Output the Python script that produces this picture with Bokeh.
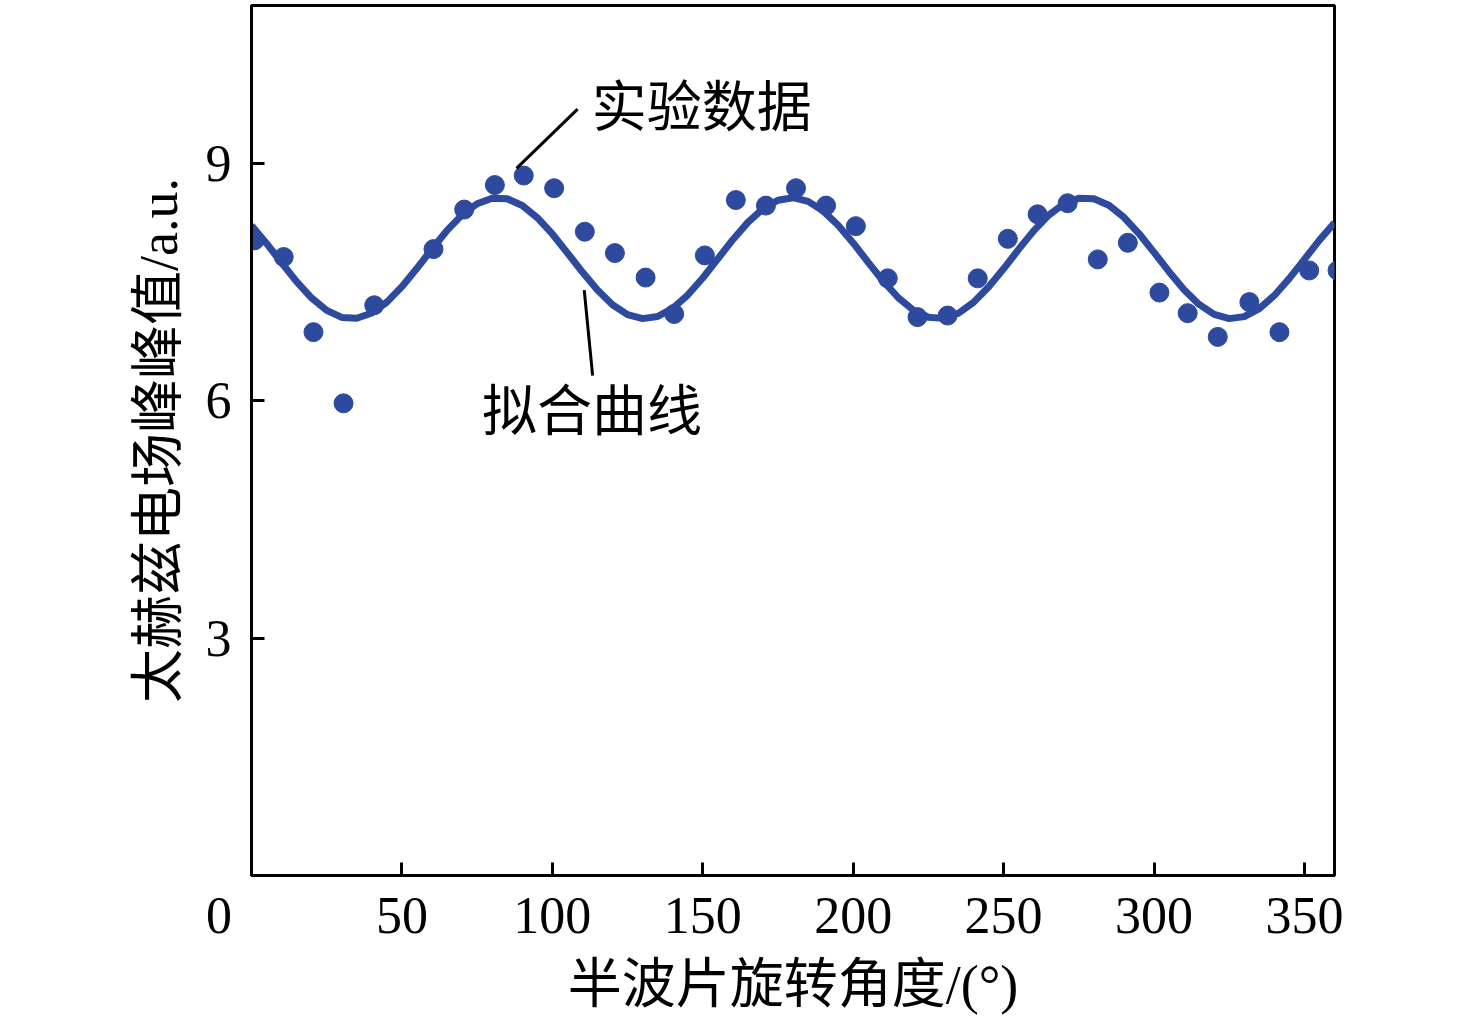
import math
from bokeh.plotting import figure
from bokeh.models import Label, FixedTicker
from bokeh.embed import file_html
from bokeh.resources import INLINE

# ---- data ----
angle_pts = [1, 10.7, 20.6, 30.6, 40.8, 60.5, 70.7, 80.9, 90.5, 100.6, 110.8, 120.8,
             131, 140.5, 150.7, 161, 171, 181, 191, 200.9, 211.5, 221.4, 231.4, 241.4,
             251.4, 261.3, 271.3, 281.3, 291.3, 301.8, 311.2, 321.2, 331.7, 341.7, 351.6, 361]
field_pts = [8.03, 7.82, 6.87, 5.97, 7.21, 7.92, 8.42, 8.73, 8.85, 8.69, 8.14, 7.87,
             7.56, 7.10, 7.84, 8.54, 8.47, 8.69, 8.47, 8.21, 7.55, 7.06, 7.08, 7.55,
             8.05, 8.36, 8.50, 7.79, 8.00, 7.37, 7.11, 6.81, 7.25, 6.87, 7.65, 7.65]

fit_x = [0, 5, 10, 15, 20, 25, 30, 35, 40, 45, 50, 55, 60, 65, 70, 75, 80, 85, 90, 95,
         100, 105, 110, 115, 120, 125, 130, 135, 140, 145, 150, 155, 160, 165, 170, 175,
         180, 185, 190, 195, 200, 205, 210, 215, 220, 225, 230, 235, 240, 245, 250, 255,
         260, 265, 270, 275, 280, 285, 290, 295, 300, 305, 310, 315, 320, 325, 330, 335,
         340, 345, 350, 355, 360]
fit_y = [8.217, 7.992, 7.747, 7.509, 7.301, 7.145, 7.056, 7.045, 7.112, 7.250, 7.445,
         7.677, 7.922, 8.156, 8.353, 8.494, 8.564, 8.556, 8.471, 8.317, 8.111, 7.873,
         7.629, 7.402, 7.217, 7.092, 7.041, 7.068, 7.171, 7.339, 7.555, 7.797, 8.039,
         8.258, 8.430, 8.537, 8.570, 8.524, 8.403, 8.222, 7.998, 7.753, 7.514, 7.305,
         7.148, 7.058, 7.044, 7.109, 7.246, 7.440, 7.671, 7.916, 8.150, 8.349, 8.491,
         8.563, 8.557, 8.474, 8.322, 8.117, 7.879, 7.635, 7.407, 7.221, 7.095, 7.041,
         7.066, 7.168, 7.334, 7.549, 7.791, 8.033, 8.253]

x_ticks = [0, 50, 100, 150, 200, 250, 300, 350]
y_ticks = [3, 6, 9]
x_title = "半波片旋转角度/(°)"
y_title = "太赫兹电场峰峰值/a.u."
label_data = "实验数据"
label_fit = "拟合曲线"

BLUE = "#2E4A9E"
FONT = "Liberation Serif, Noto Sans CJK SC"

p = figure(width=1460, height=1018, x_range=(0, 360), y_range=(0, 11),
           output_backend="svg", toolbar_location=None,
           min_border_left=251, min_border_right=126, min_border_top=5,
           min_border_bottom=143)

p.xgrid.grid_line_color = None
p.ygrid.grid_line_color = None
p.outline_line_color = "black"
p.outline_line_width = 3
p.outline_line_alpha = 1

for ax in (p.xaxis[0], p.yaxis[0]):
    ax.axis_line_width = 3
    ax.axis_line_color = "black"
    ax.major_tick_in = 13
    ax.major_tick_out = 0
    ax.major_tick_line_width = 3
    ax.minor_tick_line_color = None
    ax.major_label_text_font = "Liberation Serif"
    ax.major_label_text_font_size = "52px"
    ax.major_label_text_color = "black"
    ax.axis_label_text_font = FONT
    ax.axis_label_text_font_size = "54px"
    ax.axis_label_text_font_style = "normal"
    ax.axis_label_text_color = "black"

p.xaxis.ticker = FixedTicker(ticks=x_ticks)
p.yaxis.ticker = FixedTicker(ticks=y_ticks)
p.xaxis.major_label_overrides = {0: "0\u00a0\u00a0\u00a0\u00a0\u00a0"}
p.xaxis.major_label_standoff = 11
p.yaxis.major_label_standoff = 20
p.xaxis.axis_label = x_title
p.yaxis.axis_label = y_title
p.xaxis.axis_label_standoff = 8
p.yaxis.axis_label_standoff = 14

# fitted curve and experimental points
p.line(fit_x, fit_y, line_color=BLUE, line_width=7)
p.scatter(angle_pts, field_pts, size=19, fill_color=BLUE, line_color=BLUE)

# leader lines for annotations
p.segment(x0=[108.4, 110.6], y0=[9.69, 7.40], x1=[88.1, 113.4], y1=[8.94, 6.32],
          line_color="black", line_width=3)

p.add_layout(Label(x=149.7, y=9.71, text=label_data, text_align="center",
                   text_baseline="middle", text_font=FONT, text_font_size="55px",
                   text_color="black"))
p.add_layout(Label(x=113.2, y=5.87, text=label_fit, text_align="center",
                   text_baseline="middle", text_font=FONT, text_font_size="55px",
                   text_color="black"))

open("out.html", "w").write(file_html(p, INLINE))
